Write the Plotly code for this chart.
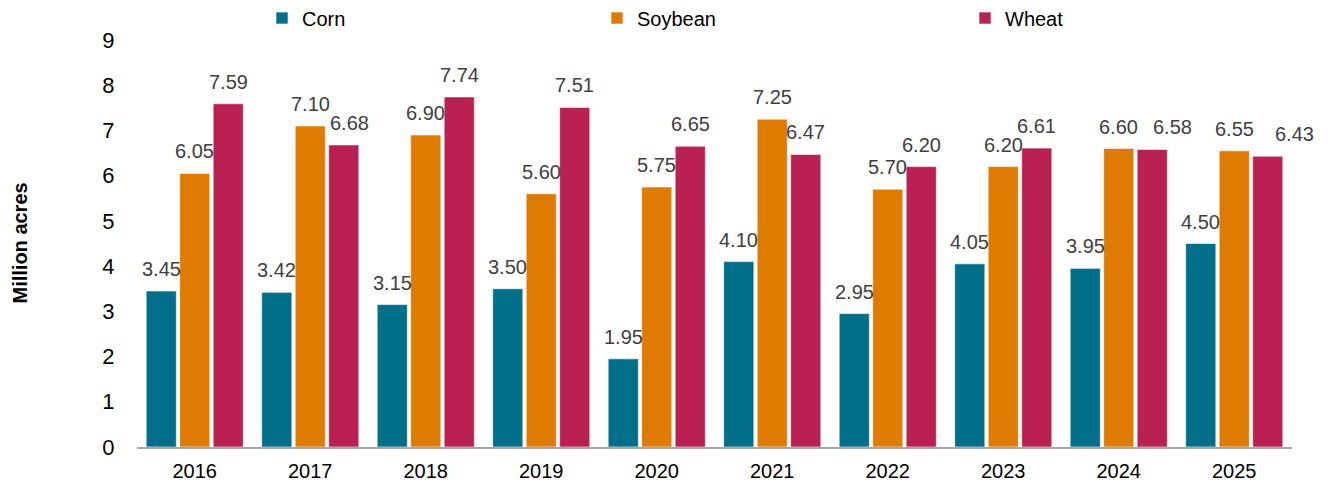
import plotly.graph_objects as go

years = ["2016", "2017", "2018", "2019", "2020", "2021", "2022", "2023", "2024", "2025"]
corn = [3.45, 3.42, 3.15, 3.50, 1.95, 4.10, 2.95, 4.05, 3.95, 4.50]
soybean = [6.05, 7.10, 6.90, 5.60, 5.75, 7.25, 5.70, 6.20, 6.60, 6.55]
wheat = [7.59, 6.68, 7.74, 7.51, 6.65, 6.47, 6.20, 6.61, 6.58, 6.43]

series = [("Corn", corn, "#00708A"), ("Soybean", soybean, "#DE7B00"), ("Wheat", wheat, "#BA2052")]
legend_ids = ["legend", "legend2", "legend3"]
legend_px = [262, 597, 965]  # left x (pixels) of each legend box

# manual horizontal nudges (pixels) of a few data labels, as in the reference
label_nudge = {("Wheat", 1): 6, ("Wheat", 8): 20, ("Wheat", 9): 27}

W, H = 1333, 484
ML, MR, MT, MB = 137, 41, 40, 37
BARGAP = 0.13
FONT = "Liberation Sans, Arial, sans-serif"

fig = go.Figure()
for (name, vals, col), lid in zip(series, legend_ids):
    fig.add_trace(go.Bar(
        x=years, y=vals, name=name, legend=lid,
        marker=dict(color=col, line=dict(color="rgba(255,255,255,0.6)", width=1)),
    ))

plot_w = W - ML - MR
slot = plot_w / len(years) * (1 - BARGAP) / 3
for k, (name, vals, col) in enumerate(series):
    for i, v in enumerate(vals):
        fig.add_annotation(
            x=i, y=v, text=f"{v:.2f}", showarrow=False,
            xshift=(k - 1) * slot + label_nudge.get((name, i), 0),
            yshift=22, yanchor="middle",
            font=dict(size=20, color="#404040", family=FONT),
        )

fig.add_annotation(
    xref="paper", yref="paper", x=(19 - ML) / plot_w, y=0.5,
    text="<b>Million acres</b>", textangle=-90, showarrow=False,
    xanchor="center", yanchor="middle",
    font=dict(size=20, color="black", family=FONT),
)

legend_common = dict(
    orientation="h", xref="container", yref="container",
    xanchor="left", y=1 - 18 / H, yanchor="middle",
    font=dict(size=20, color="black", family=FONT),
    itemwidth=30, bgcolor="rgba(0,0,0,0)",
)
fig.update_layout(
    width=W, height=H,
    margin=dict(l=ML, r=MR, t=MT, b=MB, pad=0, autoexpand=False),
    barmode="group", bargap=BARGAP, bargroupgap=0.1,
    plot_bgcolor="white", paper_bgcolor="white",
    font=dict(family=FONT, color="black"),
    showlegend=True,
    legend=dict(x=legend_px[0] / W, **legend_common),
    legend2=dict(x=legend_px[1] / W, **legend_common),
    legend3=dict(x=legend_px[2] / W, **legend_common),
    xaxis=dict(
        type="category", range=[-0.5, len(years) - 0.5],
        showline=True, linecolor="#A6A6A6", linewidth=2,
        ticks="outside", ticklen=5, tickcolor="rgba(0,0,0,0)",
        tickfont=dict(size=20, color="black"),
        showgrid=False,
    ),
    yaxis=dict(
        range=[0, 9], dtick=1, showgrid=False, zeroline=False, showline=False,
        tickfont=dict(size=22, color="black"),
        ticks="outside", ticklen=17, tickcolor="rgba(0,0,0,0)",
    ),
)

fig.write_html("out.html")
